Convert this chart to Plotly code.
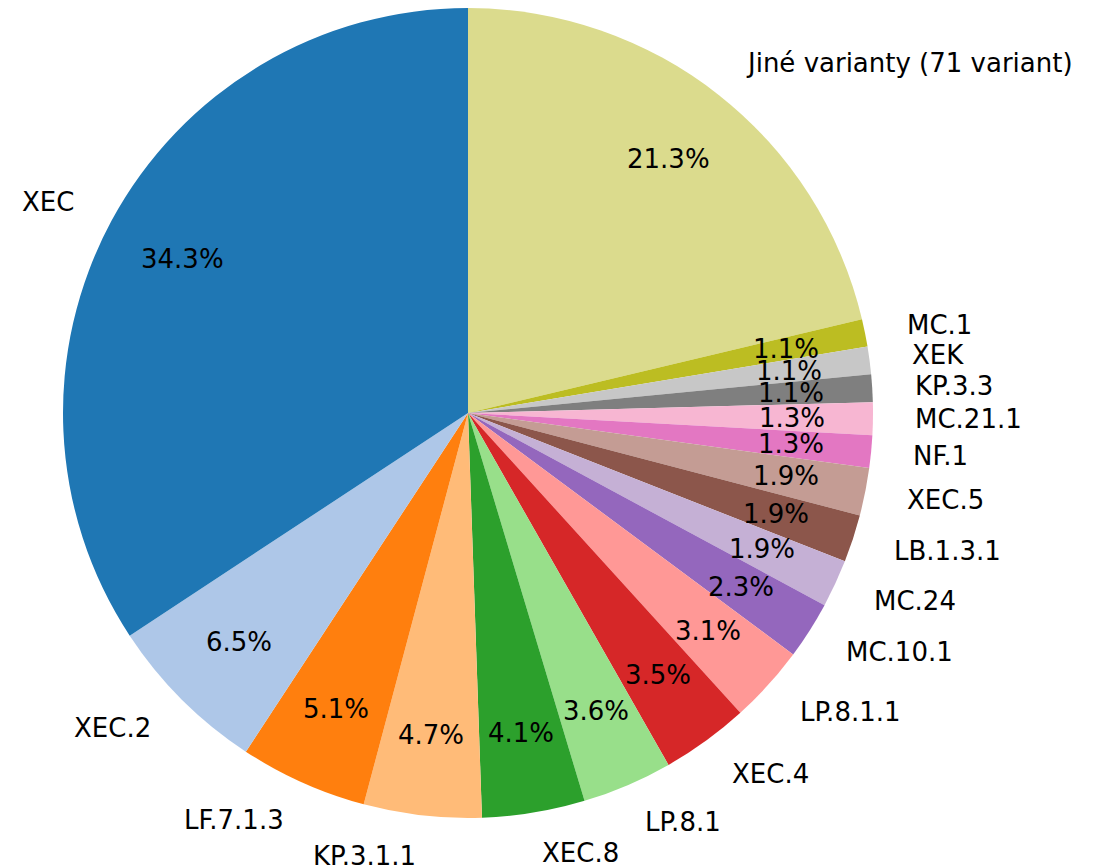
import math
import plotly.graph_objects as go

labels = ["XEC", "XEC.2", "LF.7.1.3", "KP.3.1.1", "XEC.8", "LP.8.1", "XEC.4", "LP.8.1.1",
          "MC.10.1", "MC.24", "LB.1.3.1", "XEC.5", "NF.1", "MC.21.1", "KP.3.3", "XEK", "MC.1",
          "Jiné varianty (71 variant)"]
values = [34.3, 6.5, 5.1, 4.7, 4.1, 3.6, 3.5, 3.1, 2.3, 1.9, 1.9, 1.9, 1.3, 1.3, 1.1, 1.1, 1.1, 21.3]
colors = ["#1f77b4", "#aec7e8", "#ff7f0e", "#ffbb78", "#2ca02c", "#98df8a", "#d62728", "#ff9896",
          "#9467bd", "#c5b0d5", "#8c564b", "#c49c94", "#e377c2", "#f7b6d2", "#7f7f7f", "#c7c7c7",
          "#bcbd22", "#dbdb8d"]

# figure is placed inside an 8px page margin
W, H = 1088, 857
cx, cy, r = 460, 405, 405  # pixel geometry inside the plot div (cy from top)

dom_x = [(cx - r) / W, (cx + r) / W]
dom_y = [max(0.0, (H - cy - r) / H), min(1.0, (H - cy + r) / H)]

# slices run counterclockwise from 12 o'clock (= reversed order clockwise)
fig = go.Figure(go.Pie(
    labels=labels[::-1], values=values[::-1], sort=False, direction="clockwise", rotation=0,
    marker=dict(colors=colors[::-1], line=dict(width=0)),
    textinfo="none", hoverinfo="label+percent", showlegend=False,
    domain=dict(x=dom_x, y=dom_y),
))

font = dict(family="DejaVu Sans", size=26, color="black")
total = sum(values)
cum = 0.0
annotations = []
for lab, v in zip(labels, values):
    mid = 90 + 360 * (cum + v / 2) / total
    cum += v
    c, s = math.cos(math.radians(mid)), math.sin(math.radians(mid))
    lx = cx + 1.1 * r * c
    ly = cy - 1.1 * r * s
    annotations.append(dict(x=lx / W, y=1 - ly / H, xref="paper", yref="paper",
                            text=lab, showarrow=False, font=font,
                            xanchor="left" if c > 0 else "right", yanchor="middle"))
    px = cx + 0.8 * r * c
    py = cy - 0.8 * r * s
    annotations.append(dict(x=px / W, y=1 - py / H, xref="paper", yref="paper",
                            text=f"{v:.1f}%", showarrow=False, font=font,
                            xanchor="center", yanchor="middle"))

fig.update_layout(width=W, height=H, margin=dict(l=0, r=0, t=0, b=0),
                  paper_bgcolor="white", plot_bgcolor="white", annotations=annotations)
fig.write_html("out.html")
